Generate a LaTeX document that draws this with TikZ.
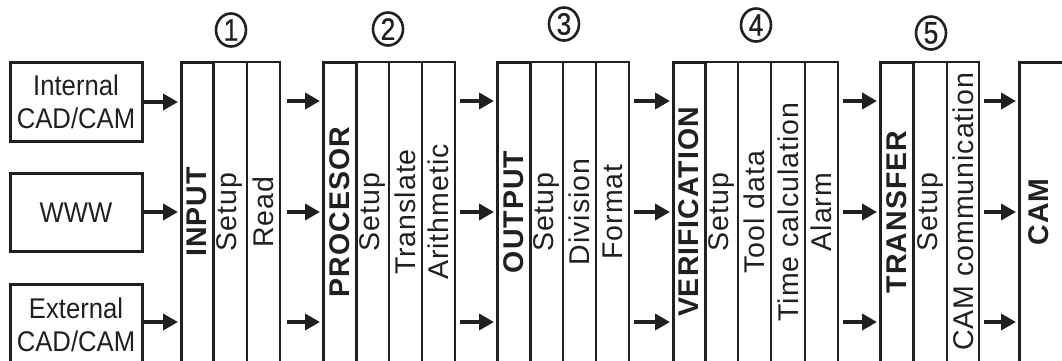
\documentclass[tikz,border=0pt]{standalone}
\usepackage{fontspec}
\setmainfont{Liberation Sans}
\newfontfamily\hfont[FakeStretch=0.9]{Liberation Sans}
\newfontfamily\nfont[FakeStretch=0.85,FakeBold=0.6]{Liberation Sans}
\newfontfamily\vfont[LetterSpace=3.5]{Liberation Sans}
\usetikzlibrary{arrows.meta,shapes.geometric}
\definecolor{ink}{RGB}{35,31,32}
\begin{document}
\begin{tikzpicture}[x=1pt,y=-1pt,
  every node/.style={outer sep=0pt},
  src/.style={draw=ink, line width=3pt, minimum width=132pt, inner sep=0pt, align=center, text=ink, font=\hfont\fontsize{28.5}{33}\selectfont},
  maincol/.style={draw=ink, line width=3pt, anchor=north west, inner sep=0pt, minimum height=340pt},
  subcol/.style={draw=ink, line width=1.6pt, anchor=north west, inner sep=0pt, minimum height=340pt},
  vlab/.style={rotate=90, inner sep=0pt, text=ink, font=\vfont\fontsize{28.5}{28.5}\selectfont},
  vbold/.style={rotate=90, inner sep=0pt, text=ink, font=\vfont\bfseries\fontsize{28.5}{28.5}\selectfont},
  flow/.style={draw=ink, line width=4pt, -{Triangle[length=15pt,width=16pt]}, shorten >=3pt},
  gapflow/.style={flow, shorten <=5pt},
  stepno/.style={draw=ink, ellipse, line width=2.6pt, minimum width=30pt, minimum height=33pt, inner sep=0pt, text=ink, font=\nfont\fontsize{31}{31}\selectfont}
]
\useasboundingbox (0,0) rectangle (1062,360);
\clip (0,0) rectangle (1062,360);

% row coordinates
\coordinate (r1) at (0,101);
\coordinate (r2) at (0,212);
\coordinate (r3) at (0,322);

% step numbers
\node[stepno] (n1) at (231,30) {1};
\node[stepno] (n2) at (388,29) {2};
\node[stepno] (n3) at (564,24) {3};
\node[stepno] (n4) at (756,25) {4};
\node[stepno] (n5) at (931,33) {5};

% sources
\node[src, minimum height=79.5pt] (in1) at (76,102) {Internal\\CAD/CAM};
\node[src, minimum height=78.5pt] (www) at (76,212.3) {WWW};
\node[src, minimum height=80pt] (ext) at (76,324.5) {External\\CAD/CAM};

% block 1
\node[subcol, minimum width=34pt] (in-setup) at (213,62) {};
\node[subcol, minimum width=33pt] (in-read) at (247,62) {};
\node[maincol, minimum width=32pt] (input) at (181,62) {};
\node[vbold] (l-input) at (input |- r2) {INPUT};
\node[vlab] (l-insetup) at (in-setup |- r2) {Setup};
\node[vlab] (l-inread) at (in-read |- r2) {Read};

% block 2
\node[subcol, minimum width=33pt] (pr-setup) at (356,62) {};
\node[subcol, minimum width=33pt] (pr-trans) at (389,62) {};
\node[subcol, minimum width=33pt] (pr-arith) at (422,62) {};
\node[maincol, minimum width=33pt] (proc) at (323,62) {};
\node[vbold] (l-proc) at (proc |- r2) {PROCESOR};
\node[vlab] (l-prsetup) at (pr-setup |- r2) {Setup};
\node[vlab] (l-prtrans) at (pr-trans |- r2) {Translate};
\node[vlab] (l-prarith) at (pr-arith |- r2) {Arithmetic};

% block 3
\node[subcol, minimum width=33pt] (ou-setup) at (530,62) {};
\node[subcol, minimum width=33pt] (ou-div) at (563,62) {};
\node[subcol, minimum width=33pt] (ou-form) at (596,62) {};
\node[maincol, minimum width=33pt] (output) at (497,62) {};
\node[vbold] (l-output) at (output |- r2) {OUTPUT};
\node[vlab] (l-ousetup) at (ou-setup |- r2) {Setup};
\node[vlab] (l-oudiv) at (ou-div |- r2) {Division};
\node[vlab] (l-ouform) at (ou-form |- r2) {Format};

% block 4
\node[subcol, minimum width=33pt] (ve-setup) at (705,62) {};
\node[subcol, minimum width=33pt] (ve-tool) at (738,62) {};
\node[subcol, minimum width=34pt] (ve-time) at (771,62) {};
\node[subcol, minimum width=33pt] (ve-alarm) at (805,62) {};
\node[maincol, minimum width=32pt] (verif) at (673,62) {};
\node[vbold] (l-verif) at (verif |- r2) {VERIFICATION};
\node[vlab] (l-vesetup) at (ve-setup |- r2) {Setup};
\node[vlab] (l-vetool) at (ve-tool |- r2) {Tool data};
\node[vlab] (l-vetime) at (ve-time |- r2) {Time calculation};
\node[vlab] (l-vealarm) at (ve-alarm |- r2) {Alarm};

% block 5
\node[subcol, minimum width=34pt] (tr-setup) at (913,62) {};
\node[subcol, minimum width=32pt] (tr-comm) at (947,62) {};
\node[maincol, minimum width=33pt] (transfer) at (880,62) {};
\node[vbold] (l-transfer) at (transfer |- r2) {TRANSFER};
\node[vlab] (l-trsetup) at (tr-setup |- r2) {Setup};
\node[vlab] (l-trcomm) at (tr-comm |- r2) {CAM communication};

% CAM
\node[maincol, minimum width=80pt] (cam) at (1019,62) {};
\node[vbold] (l-cam) at (1039,212) {CAM};

% arrows: sources -> input
\draw[flow, shorten <=2pt] (in1.east) -- (in1.east -| input.west);
\draw[flow, shorten <=2pt] (www.east |- r2) -- (input.west |- r2);
\draw[flow, shorten <=2pt] (ext.east |- r3) -- (input.west |- r3);

% arrows between blocks
\foreach \r in {r1,r2,r3}{
  \draw[gapflow, shorten <=7pt] (in-read.east |- \r) -- (proc.west |- \r);
  \draw[gapflow] (pr-arith.east |- \r) -- (output.west |- \r);
  \draw[gapflow] (ou-form.east |- \r) -- (verif.west |- \r);
  \draw[gapflow] (ve-alarm.east |- \r) -- (transfer.west |- \r);
  \draw[gapflow] (tr-comm.east |- \r) -- (cam.west |- \r);
}
\end{tikzpicture}
\end{document}
